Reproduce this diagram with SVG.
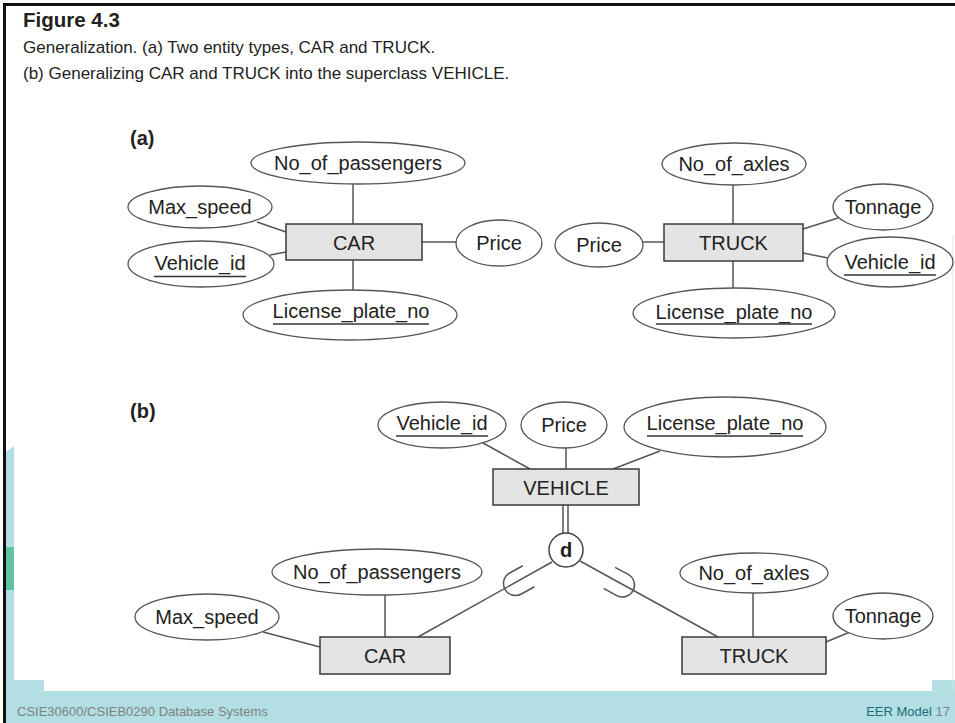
<svg xmlns="http://www.w3.org/2000/svg" width="955" height="723" viewBox="0 0 955 723">
<defs>
<style>
.bg{fill:#ffffff}
.teal{fill:#b1dfe3}
.green{fill:#5fc4a2}
.frame{stroke:#111;stroke-width:3;fill:none}
.ent rect{fill:#e4e4e4;stroke:#3a3a3a;stroke-width:1.5}
.att ellipse{fill:#ffffff;stroke:#555;stroke-width:1.3}
.lbl{font-family:"Liberation Sans",Arial,sans-serif;font-size:20px;fill:#222;text-anchor:middle}
.ul{stroke:#333;stroke-width:1.4}
.conn line,.conn path{stroke:#555;stroke-width:1.5;fill:none}
.ttl{font-family:"Liberation Sans",Arial,sans-serif;fill:#222}
.foot{font-family:"Liberation Sans",Arial,sans-serif;font-size:13px}
</style>
</defs>
<rect class="bg" x="0" y="0" width="955" height="723"/>
<g id="background">
<polygon class="teal" points="6,452 14,446 14,691 6,691"/>
<rect class="green" x="6" y="547" width="8" height="43"/>
<rect class="teal" x="6" y="680" width="38" height="12"/>
<rect class="teal" x="932" y="680" width="23" height="12"/>
<rect class="teal" x="6" y="691" width="949" height="32"/>
<line x1="953" y1="235" x2="953" y2="691" stroke="#e3e3e3" stroke-width="1"/>
<path class="frame" d="M4.5,723 V4.5 H955"/>
</g>
<g id="title">
<text class="ttl" x="23" y="27" font-size="20.5" font-weight="bold" fill="#231f20">Figure 4.3</text>
<text class="ttl" x="23" y="53" font-size="17" fill="#444">Generalization. (a) Two entity types, CAR and TRUCK.</text>
<text class="ttl" x="23" y="79" font-size="17" fill="#444">(b) Generalizing CAR and TRUCK into the superclass VEHICLE.</text>
<text class="ttl" x="130" y="145" font-size="20" font-weight="bold">(a)</text>
<text class="ttl" x="130" y="418" font-size="20" font-weight="bold">(b)</text>
</g>
<g id="connectors" class="conn">
<line x1="353" y1="184" x2="353" y2="224"/>
<line x1="353" y1="260" x2="353" y2="290"/>
<line x1="257" y1="222" x2="286" y2="232"/>
<line x1="270" y1="255" x2="286" y2="252"/>
<line x1="422" y1="242" x2="456" y2="242"/>
<line x1="733" y1="185" x2="733" y2="224"/>
<line x1="733" y1="261" x2="733" y2="288"/>
<line x1="643" y1="242" x2="664" y2="242"/>
<line x1="803" y1="229" x2="838" y2="218"/>
<line x1="803" y1="253" x2="828" y2="258"/>
<line x1="483" y1="443" x2="530" y2="469"/>
<line x1="566" y1="448" x2="566" y2="469"/>
<line x1="660" y1="451" x2="613" y2="469"/>
<line x1="563" y1="505" x2="563" y2="534"/>
<line x1="568" y1="505" x2="568" y2="534"/>
<line x1="552" y1="562" x2="418" y2="637"/>
<line x1="580" y1="561" x2="718" y2="637"/>
<path d="M-15,-12 H0 A12,12 0 0 1 0,12 H-15" transform="translate(515.5,583.5) rotate(151)"/>
<path d="M-15,-12 H0 A12,12 0 0 1 0,12 H-15" transform="translate(622.5,585) rotate(28.5)"/>
<line x1="385" y1="595" x2="385" y2="637"/>
<line x1="263" y1="632" x2="320" y2="647"/>
<line x1="753" y1="593" x2="753" y2="637"/>
<line x1="826" y1="642" x2="850" y2="632"/>
</g>
<g id="a-car" class="ent"><rect x="286" y="224" width="136" height="36"/><text class="lbl" x="354" y="250">CAR</text></g>
<g id="a-car-passengers" class="att"><ellipse cx="358" cy="163" rx="107" ry="21"/><text class="lbl" x="358" y="170">No_of_passengers</text></g>
<g id="a-car-maxspeed" class="att"><ellipse cx="200" cy="207" rx="72" ry="21"/><text class="lbl" x="200" y="214">Max_speed</text></g>
<g id="a-car-vehicleid" class="att"><ellipse cx="201" cy="264" rx="73" ry="23"/><text class="lbl" x="200" y="270">Vehicle_id</text><line class="ul" x1="154" y1="276.5" x2="246" y2="276.5"/></g>
<g id="a-car-license" class="att"><ellipse cx="350" cy="315" rx="107" ry="25"/><text class="lbl" x="351" y="318">License_plate_no</text><line class="ul" x1="273" y1="324" x2="429" y2="324"/></g>
<g id="a-car-price" class="att"><ellipse cx="499" cy="243" rx="43" ry="23"/><text class="lbl" x="499" y="250">Price</text></g>
<g id="a-truck" class="ent"><rect x="664" y="224" width="139" height="37"/><text class="lbl" x="733.5" y="250">TRUCK</text></g>
<g id="a-truck-axles" class="att"><ellipse cx="734" cy="164" rx="72" ry="21"/><text class="lbl" x="734" y="171">No_of_axles</text></g>
<g id="a-truck-tonnage" class="att"><ellipse cx="883" cy="207" rx="50" ry="23"/><text class="lbl" x="883" y="214">Tonnage</text></g>
<g id="a-truck-price" class="att"><ellipse cx="599" cy="245" rx="44" ry="22"/><text class="lbl" x="599" y="252">Price</text></g>
<g id="a-truck-vehicleid" class="att"><ellipse cx="890" cy="262" rx="63" ry="25"/><text class="lbl" x="890" y="269">Vehicle_id</text><line class="ul" x1="844" y1="275" x2="936" y2="275"/></g>
<g id="a-truck-license" class="att"><ellipse cx="734" cy="313" rx="101" ry="25"/><text class="lbl" x="734" y="319">License_plate_no</text><line class="ul" x1="656" y1="324" x2="812" y2="324"/></g>
<g id="b-vehicle" class="ent"><rect x="493" y="469" width="146" height="36"/><text class="lbl" x="566" y="495">VEHICLE</text></g>
<g id="b-vehicleid" class="att"><ellipse cx="442" cy="425" rx="64" ry="23"/><text class="lbl" x="442" y="430">Vehicle_id</text><line class="ul" x1="396" y1="436" x2="488" y2="436"/></g>
<g id="b-price" class="att"><ellipse cx="564" cy="425" rx="43" ry="23"/><text class="lbl" x="564" y="432">Price</text></g>
<g id="b-license" class="att"><ellipse cx="725" cy="427" rx="101" ry="30"/><text class="lbl" x="725" y="430">License_plate_no</text><line class="ul" x1="647" y1="436" x2="803" y2="436"/></g>
<g id="b-d"><circle cx="566" cy="550" r="17" fill="#fff" stroke="#444" stroke-width="1.5"/><text class="lbl" x="566" y="557" font-weight="bold">d</text></g>
<g id="b-car" class="ent"><rect x="320" y="637" width="130" height="37"/><text class="lbl" x="385" y="663">CAR</text></g>
<g id="b-car-passengers" class="att"><ellipse cx="377" cy="572" rx="105" ry="23"/><text class="lbl" x="377" y="579">No_of_passengers</text></g>
<g id="b-car-maxspeed" class="att"><ellipse cx="207" cy="617" rx="72" ry="23"/><text class="lbl" x="207" y="624">Max_speed</text></g>
<g id="b-truck" class="ent"><rect x="682" y="637" width="144" height="37"/><text class="lbl" x="754" y="663">TRUCK</text></g>
<g id="b-truck-axles" class="att"><ellipse cx="754" cy="573" rx="74" ry="20"/><text class="lbl" x="754" y="580">No_of_axles</text></g>
<g id="b-truck-tonnage" class="att"><ellipse cx="883" cy="616" rx="50" ry="23"/><text class="lbl" x="883" y="623">Tonnage</text></g>
<g id="footer">
<text class="foot" x="17" y="716" fill="#7f7f7f">CSIE30600/CSIEB0290 Database Systems</text>
<text class="foot" x="950" y="716" text-anchor="end"><tspan fill="#1f6b7a">EER Model</tspan><tspan fill="#7f7f7f"> 17</tspan></text>
</g>
</svg>
